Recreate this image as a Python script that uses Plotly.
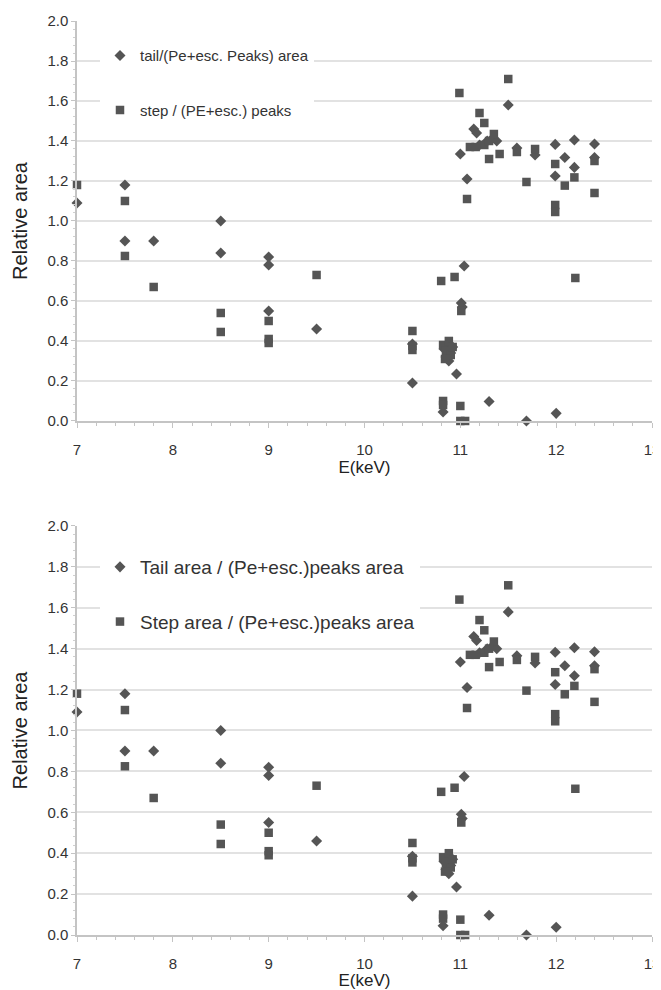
import plotly.graph_objects as go

# ---- data (same measurements in both panels) ----
tail_x = [7.0, 7.5, 7.5, 7.8, 8.5, 8.5, 9.0, 9.0, 9.0, 9.5,
          10.5, 10.5,
          10.83, 10.87, 10.90, 10.85, 10.92, 10.88,
          10.96, 10.82, 11.04, 11.01, 11.02, 11.30, 11.69, 12.0,
          11.0, 11.07, 11.14, 11.17, 11.20, 11.28, 11.33, 11.38, 11.50,
          11.59, 11.78, 11.99, 12.19, 12.40, 12.09, 12.19, 12.40, 11.99]
tail_y = [1.09, 1.18, 0.90, 0.90, 1.00, 0.84, 0.82, 0.78, 0.55, 0.46,
          0.385, 0.19,
          0.36, 0.38, 0.34, 0.32, 0.37, 0.30,
          0.235, 0.045, 0.775, 0.59, 0.57, 0.097, 0.0, 0.038,
          1.335, 1.21, 1.46, 1.44, 1.38, 1.40, 1.41, 1.40, 1.58,
          1.365, 1.33, 1.383, 1.405, 1.385, 1.317, 1.268, 1.317, 1.225]

step_x = [7.0, 7.5, 7.5, 7.8, 8.5, 8.5, 9.0, 9.0, 9.0, 9.5,
          10.5, 10.5, 10.5,
          10.82, 10.85, 10.88, 10.90, 10.84, 10.92,
          10.80, 10.94, 11.01, 12.20,
          10.82, 10.82, 11.0, 11.0, 11.05,
          10.99, 11.50, 11.20, 11.25, 11.35, 11.10, 11.16, 11.25, 11.30,
          11.30, 11.41, 11.59, 11.78, 11.07, 11.69, 11.99, 12.19, 12.40,
          12.09, 12.40, 11.99, 11.99]
step_y = [1.18, 1.10, 0.825, 0.67, 0.54, 0.445, 0.50, 0.41, 0.39, 0.73,
          0.45, 0.375, 0.355,
          0.38, 0.35, 0.40, 0.33, 0.31, 0.37,
          0.70, 0.72, 0.55, 0.715,
          0.10, 0.08, 0.075, 0.0, 0.0,
          1.64, 1.71, 1.54, 1.49, 1.435, 1.37, 1.37, 1.38, 1.40,
          1.31, 1.335, 1.345, 1.36, 1.11, 1.195, 1.285, 1.218, 1.30,
          1.177, 1.14, 1.08, 1.045]

top_names = ["tail/(Pe+esc. Peaks) area", "step / (PE+esc.) peaks"]
bottom_names = ["Tail area / (Pe+esc.)peaks area", "Step area / (Pe+esc.)peaks area"]

x_ticks = [7, 8, 9, 10, 11, 12, 13]
y_ticks = [0.0, 0.2, 0.4, 0.6, 0.8, 1.0, 1.2, 1.4, 1.6, 1.8, 2.0]

MARK = "#555555"
FONT = "Liberation Sans, Arial, sans-serif"

fig = go.Figure()

panels = [("x", "y", "legend", top_names), ("x2", "y2", "legend2", bottom_names)]
for xa, ya, lg, names in panels:
    fig.add_trace(go.Scatter(
        x=tail_x, y=tail_y, mode="markers", name=names[0], xaxis=xa, yaxis=ya,
        legend=lg, legendgroup=lg + "a", cliponaxis=False,
        marker=dict(symbol="diamond", size=8.5, color=MARK)))
    fig.add_trace(go.Scatter(
        x=step_x, y=step_y, mode="markers", name=names[1], xaxis=xa, yaxis=ya,
        legend=lg, legendgroup=lg + "b", cliponaxis=False,
        marker=dict(symbol="square", size=8.5, color=MARK)))

def xaxis(anchor):
    return dict(range=[7, 13], tickvals=x_ticks, anchor=anchor,
                showgrid=False, zeroline=False, automargin=False, ticklabeloverflow="allow",
                showline=True, linecolor="#c4c4c4", linewidth=1.5,
                ticks="outside", ticklen=5, tickcolor="#c4c4c4", ticklabelstandoff=9,
                minor=dict(dtick=0.2, ticks="outside", ticklen=3, tickcolor="#c4c4c4"),
                tickfont=dict(size=15, color="#333333", family=FONT),
                title=dict(text="E(keV)", font=dict(size=17, color="#222222", family=FONT), standoff=3))

def yaxis(anchor, domain):
    return dict(range=[0, 2], tickvals=y_ticks, tickformat=".1f", anchor=anchor, domain=domain,
                showgrid=True, gridcolor="#e2e2e2", gridwidth=1.5, zeroline=False, automargin=False,
                showline=True, linecolor="#c4c4c4", linewidth=1.5,
                ticks="outside", ticklen=4, tickcolor="#c4c4c4",
                minor=dict(dtick=0.04, ticks="outside", ticklen=2, tickcolor="#d0d0d0", showgrid=False),
                tickfont=dict(size=15, color="#333333", family=FONT),
                title=dict(text="Relative area", font=dict(size=20, color="#222222", family=FONT), standoff=14))

leg_common = dict(xanchor="left", yanchor="top", bgcolor="white", borderwidth=0,
                  itemwidth=30, traceorder="grouped")

# The page body has a default 8px margin, so the figure is drawn 8px in from the top-left.
fig.update_layout(
    width=661, height=982,
    margin=dict(l=69, r=17, t=13, b=55),
    paper_bgcolor="white", plot_bgcolor="white",
    font=dict(family=FONT, color="#333333"),
    xaxis=xaxis("y"),
    yaxis=yaxis("x", [0.5624, 1.0]),
    xaxis2=xaxis("y2"),
    yaxis2=yaxis("x2", [0.0, 0.4475]),
    legend=dict(x=0.04, y=0.980, tracegroupgap=32,
                font=dict(size=15, color="#333333", family=FONT), **leg_common),
    legend2=dict(x=0.04, y=0.4234, tracegroupgap=27,
                 font=dict(size=19, color="#333333", family=FONT), **leg_common),
)

fig.write_html("out.html")
